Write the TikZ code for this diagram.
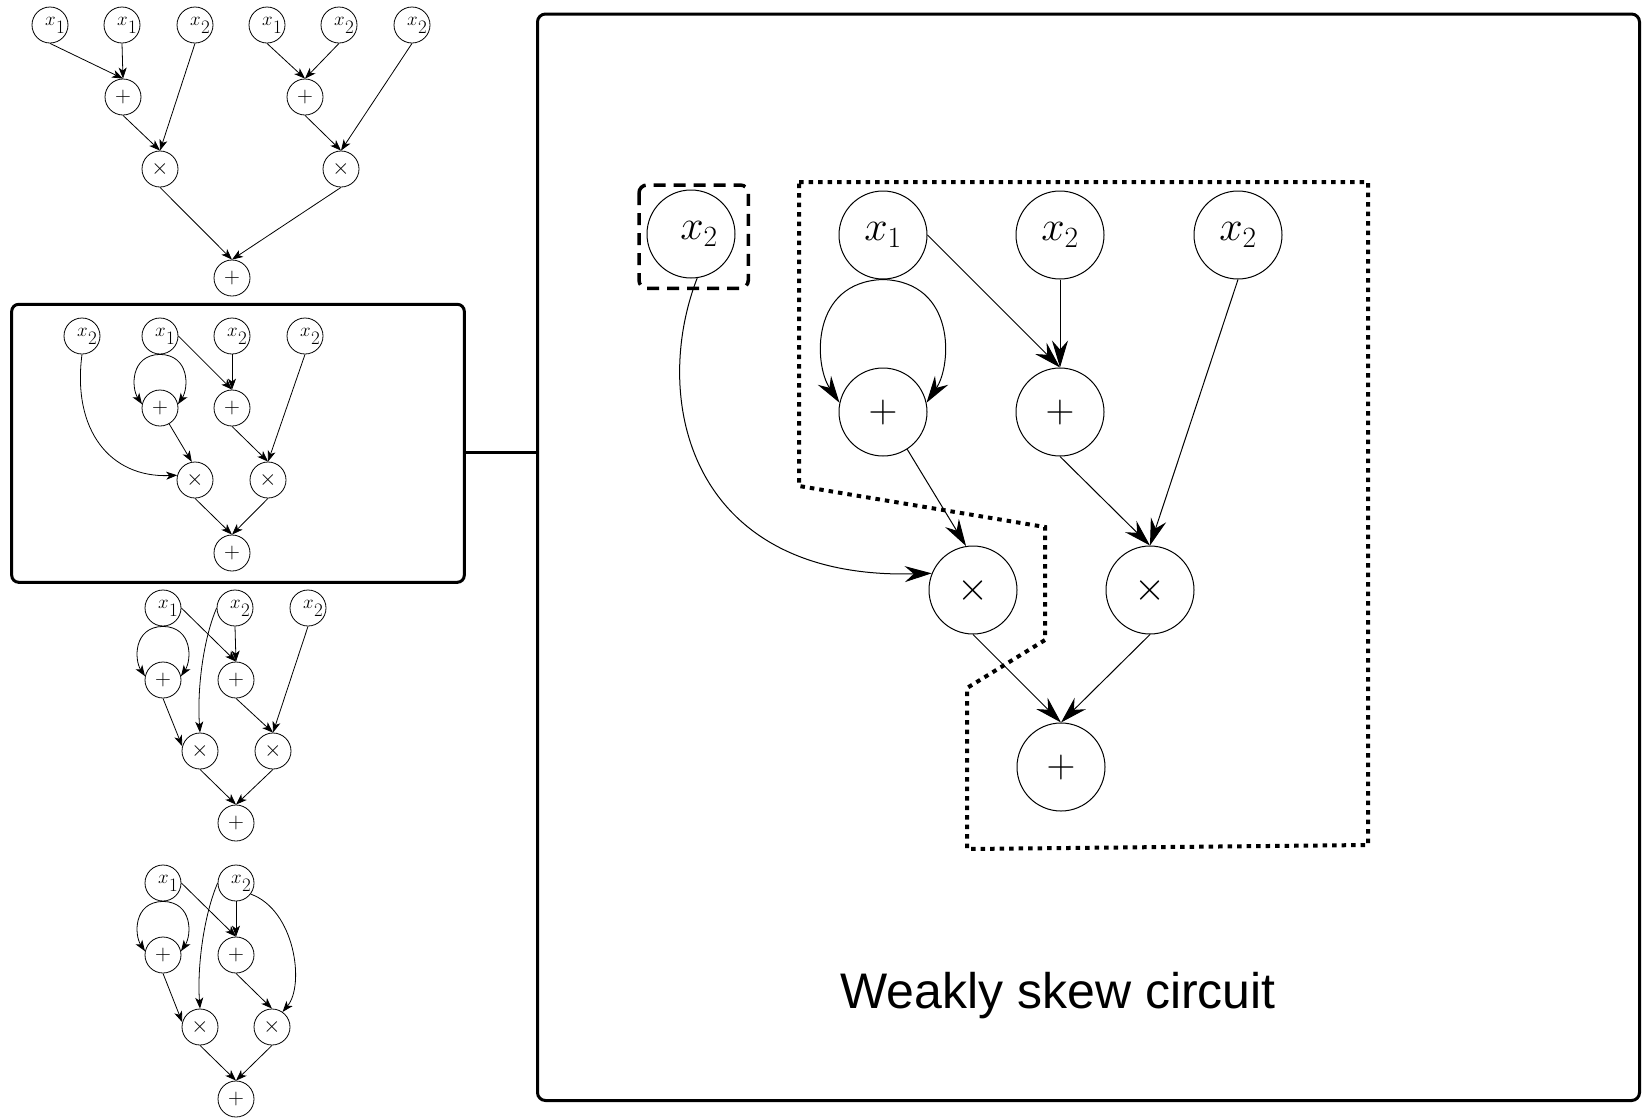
\RequirePackage{fix-cm}
\documentclass[tikz,border=0pt]{standalone}
\usepackage{fontspec}
\setsansfont{Liberation Sans}
\usetikzlibrary{arrows.meta}
\newcommand{\sxl}[1]{\makebox[0pt]{\hspace*{10pt}$x$\kern0.3pt\raisebox{-8pt}{#1}}}
\begin{document}
\begin{tikzpicture}[x=1pt,y=-1pt,
  snode/.style={circle,draw,line width=0.8pt,minimum size=36pt,inner sep=0pt,
    font=\fontsize{19}{19}\selectfont},
  sop/.style={snode,font=\fontsize{22}{22}\selectfont},
  bnode/.style={circle,draw,line width=1pt,minimum size=88pt,inner sep=0pt,
    font=\fontsize{42}{42}\selectfont},
  bop/.style={bnode,font=\fontsize{40}{40}\selectfont},
  sarr/.style={-{Stealth[length=11pt,width=8pt,inset=3pt]},line width=0.8pt},
  barr/.style={-{Stealth[length=27pt,width=16pt,inset=9pt]},line width=1pt},
  framebox/.style={draw,line width=3pt,rounded corners=7pt,inner sep=0pt,outer sep=0pt},
  dotline/.style={line width=4pt,dash pattern=on 4.5pt off 5pt},
  dashline/.style={line width=3.5pt,dash pattern=on 12pt off 8pt,rounded corners=8pt}]
\useasboundingbox (0,0) rectangle (1643,1117);

% ---------- circuit A (top) ----------
\node[snode] (A1) at (50,25) {\sxl{1}};
\node[snode] (A2) at (122,25) {\sxl{1}};
\node[snode] (A3) at (195,25) {\sxl{2}};
\node[snode] (A4) at (267,25) {\sxl{1}};
\node[snode] (A5) at (339,25) {\sxl{2}};
\node[snode] (A6) at (412,25) {\sxl{2}};
\node[sop] (Ap1) at (123,97) {$+$};
\node[sop] (Ap2) at (305,97) {$+$};
\node[sop] (Am1) at (160,169) {$\times$};
\node[sop] (Am2) at (341,169) {$\times$};
\node[sop] (Ar) at (232,278) {$+$};
\draw[sarr] (A1.south) -- (Ap1.north);
\draw[sarr] (A2.south) -- (Ap1.north);
\draw[sarr] (A3.south) -- (Am1.north);
\draw[sarr] (Ap1.south) -- (Am1.north);
\draw[sarr] (A4.south) -- (Ap2.north);
\draw[sarr] (A5.south) -- (Ap2.north);
\draw[sarr] (A6.south) -- (Am2.north);
\draw[sarr] (Ap2.south) -- (Am2.north);
\draw[sarr] (Am1.south) -- (Ar.north);
\draw[sarr] (Am2.south) -- (Ar.north);

% ---------- circuit B (framed) ----------
\node[framebox,minimum width=452.6pt,minimum height=278pt] (Bbox) at (238,443.3) {};
\node[snode] (Bx1) at (82,336) {\sxl{2}};
\node[snode] (Bx2) at (160,336) {\sxl{1}};
\node[snode] (Bx3) at (232,336) {\sxl{2}};
\node[snode] (Bx4) at (305,336) {\sxl{2}};
\node[sop] (Bp1) at (160,408) {$+$};
\node[sop] (Bp2) at (232,408) {$+$};
\node[sop] (Bm1) at (195,480) {$\times$};
\node[sop] (Bm2) at (268,480) {$\times$};
\node[sop] (Br) at (232,553) {$+$};
\draw[sarr] (Bx1.south) .. controls (72,430) and (110,478) .. (Bm1.165);
\draw[sarr] (Bx2.south) .. controls (130,355) and (131.4,388.3) .. (Bp1.168);
\draw[sarr] (Bx2.south) .. controls (190,355) and (188.6,388.3) .. (Bp1.12);
\draw[sarr] (Bx2.east) -- (Bp2.north);
\draw[sarr] (Bx3.south) -- (Bp2.north);
\draw[sarr] (Bx4.south) -- (Bm2.north);
\draw[sarr] (Bp1.-60) -- (Bm1.100);
\draw[sarr] (Bp2.south) -- (Bm2.north);
\draw[sarr] (Bm1.south) -- (Br.north);
\draw[sarr] (Bm2.south) -- (Br.north);

% ---------- circuit C ----------
\node[snode] (Cx1) at (163,608) {\sxl{1}};
\node[snode] (Cx2) at (235,608) {\sxl{2}};
\node[snode] (Cx3) at (308,608) {\sxl{2}};
\node[sop] (Cp1) at (163,680) {$+$};
\node[sop] (Cp2) at (236,680) {$+$};
\node[sop] (Cm1) at (200,751) {$\times$};
\node[sop] (Cm2) at (273,751) {$\times$};
\node[sop] (Cr) at (236,823) {$+$};
\draw[sarr] (Cx1.south) .. controls (133,627) and (134.4,660.3) .. (Cp1.168);
\draw[sarr] (Cx1.south) .. controls (193,627) and (191.6,660.3) .. (Cp1.12);
\draw[sarr] (Cx1.east) -- (Cp2.north);
\draw[sarr] (Cx2.south) -- (Cp2.north);
\draw[sarr] (Cx2.west) .. controls (203,640) and (197,690) .. (Cm1.north);
\draw[sarr] (Cx3.south) -- (Cm2.north);
\draw[sarr] (Cp1.south) -- (Cm1.165);
\draw[sarr] (Cp2.south) -- (Cm2.north);
\draw[sarr] (Cm1.south) -- (Cr.north);
\draw[sarr] (Cm2.south) -- (Cr.north);

% ---------- circuit D ----------
\node[snode] (Dx1) at (163,883) {\sxl{1}};
\node[snode] (Dx2) at (236,883) {\sxl{2}};
\node[sop] (Dp1) at (163,955) {$+$};
\node[sop] (Dp2) at (236,955) {$+$};
\node[sop] (Dm1) at (200,1027) {$\times$};
\node[sop] (Dm2) at (272,1027) {$\times$};
\node[sop] (Dr) at (236,1099) {$+$};
\draw[sarr] (Dx1.south) .. controls (133,902) and (134.4,935.3) .. (Dp1.168);
\draw[sarr] (Dx1.south) .. controls (193,902) and (191.6,935.3) .. (Dp1.12);
\draw[sarr] (Dx1.east) -- (Dp2.north);
\draw[sarr] (Dx2.south) -- (Dp2.north);
\draw[sarr] (Dx2.west) .. controls (204,915) and (197,966) .. (Dm1.north);
\draw[sarr] (Dx2.-37) .. controls (295,910) and (305,985) .. (Dm2.55);
\draw[sarr] (Dp1.south) -- (Dm1.165);
\draw[sarr] (Dp2.south) -- (Dm2.north);
\draw[sarr] (Dm1.south) -- (Dr.north);
\draw[sarr] (Dm2.south) -- (Dr.north);

% ---------- big frame ----------
\node[framebox,rounded corners=8pt,minimum width=1102pt,minimum height=1086.5pt] (Rbox) at (1088.5,557.25) {};
\coordinate (cy) at (0,452);
\draw[line width=3pt] (Bbox.east |- cy) -- (Rbox.west |- cy);

\node[bnode] (Rx0) at (691,234) {\hspace*{16pt}$x_2$};
\node[bnode] (Rx1) at (883,235) {$x_1$};
\node[bnode] (Rx2) at (1060,235) {$x_2$};
\node[bnode] (Rx3) at (1238,235) {$x_2$};
\node[bop] (Rp1) at (883,412) {$+$};
\node[bop] (Rp2) at (1060,412) {$+$};
\node[bop] (Rm1) at (973,590) {$\times$};
\node[bop] (Rm2) at (1150,590) {$\times$};
\node[bop] (Rr) at (1061,767) {$+$};

\draw[dashline] (639,185) rectangle (748.3,288.3);
\draw[dotline] (799,182) -- (1368,182) -- (1368,845) -- (967,849) -- (967,688)
  -- (1045,640) -- (1045,527) -- (799,486) -- cycle;

\draw[barr] (Rx0.-82) .. controls (650,400) and (690,580) .. (Rm1.158);
\draw[barr] (Rx1.south) .. controls (810,282) and (814,364.85) .. (Rp1.168);
\draw[barr] (Rx1.south) .. controls (956,282) and (952,364.85) .. (Rp1.12);
\draw[barr] (Rx1.east) -- (Rp2.north);
\draw[barr] (Rx2.south) -- (Rp2.north);
\draw[barr] (Rx3.south) -- (Rm2.north);
\draw[barr] (Rp1.-57) -- (Rm1.99);
\draw[barr] (Rp2.south) -- (Rm2.north);
\draw[barr] (Rm1.south) -- (Rr.north);
\draw[barr] (Rm2.south) -- (Rr.north);

\node[font=\sffamily\fontsize{50}{50}\selectfont,anchor=base,inner sep=0pt] (title) at (1058,1008) {Weakly skew circuit};
\end{tikzpicture}
\end{document}
